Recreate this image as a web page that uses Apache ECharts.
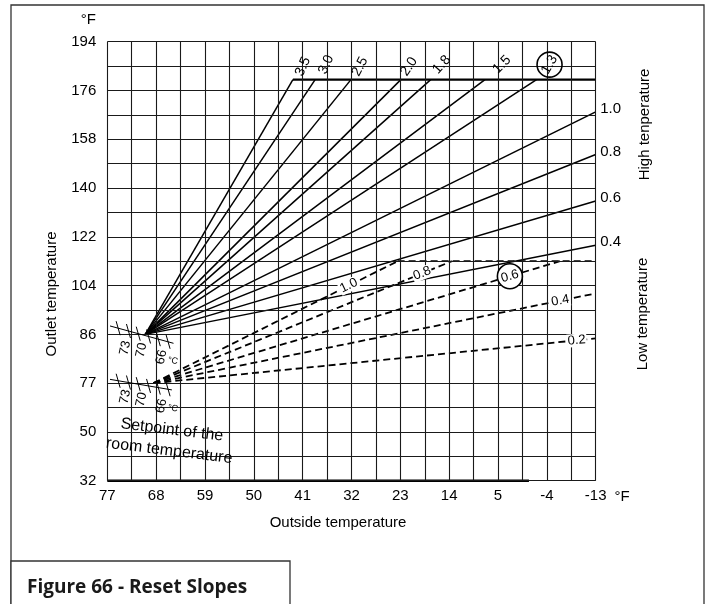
<!DOCTYPE html>
<html>
<head>
<meta charset="utf-8">
<script src="https://cdn.jsdelivr.net/npm/echarts@6/dist/echarts.min.js"></script>
<style>
  html, body { margin: 0; padding: 0; background: #fff; }
  #chart { width: 709px; height: 604px; }
</style>
</head>
<body>
<div id="chart"></div>
<script>
  // outside temperature ticks (°F)
  var xTicks = [77, 68, 59, 50, 41, 32, 23, 14, 5, -4, -13];
  // outlet temperature ticks and the text printed at them
  var yTicks = [32, 50, 68, 86, 104, 122, 140, 158, 176, 194];
  var yTickText = ['32', '50', '77', '86', '104', '122', '140', '158', '176', '194'];
  // grid lines (the one at 77 is not drawn in the original)
  var xGrid = [77, 72.5, 68, 63.5, 59, 54.5, 50, 45.5, 41, 36.5, 32, 27.5, 23, 18.5, 14, 9.5, 5, 0.5, -4, -8.5, -13];
  var yGrid = [32, 41, 50, 59, 68, 86, 95, 104, 113, 122, 131, 140, 149, 158, 167, 176, 185, 194];

  // high temperature slopes, all from the 70 / 86 point
  var highNames = ['3.5', '3.0', '2.5', '2.0', '1.8', '1.5', '1.3', '1.0', '0.8', '0.6', '0.4'];
  var highStart = [70, 86];
  var highEndX = [42.8, 38.7, 32.1, 22.9, 17.4, 7.4, -2.1, -13, -13, -13, -13];
  var highEndY = [180, 180, 180, 180, 180, 180, 180, 168.1, 152.4, 135.2, 118.9];
  var highLimit = 180;

  // low temperature slopes (dashed)
  var lowNames = ['1.0', '0.8', '0.6', '0.4', '0.2'];
  var lowStart = [68.5, 68];
  var lowEndX = [23.5, 13.5, -6.4, -13, -13];
  var lowEndY = [113, 113, 113, 101.1, 84.5];
  var lowLimit = 113;

  // room setpoint scales
  var setpointTicks = [75, 73.1, 71.3, 69.4, 67.6, 65.8];
  var upperScaleX = [76.5, 64.8], upperScaleY = [89.1, 82.7];
  var lowerScaleX = [76.5, 65.1], lowerScaleY = [69.4, 65.5];

  var FONT = 'Liberation Sans';
  var INK = '#000';

  // label layout (not data)
  var topRot = [66, 66, 62, 56, 48, 45, 60];
  var topShift = [[10, -13], [11, -15], [9, -13], [8, -13], [11, -15], [17, -15], [13, -15]];
  var lowLabelAt = [0.80, 0.90, 0.877, 0.92, 0.957];
  var lowLabelRot = [26, 21, 16, 10, 5];

  function lerp(a, b, t) {
    return [a[0] + (b[0] - a[0]) * t, a[1] + (b[1] - a[1]) * t];
  }
  function onScale(xs, ys, x) {
    return ys[0] + (ys[1] - ys[0]) * (x - xs[0]) / (xs[1] - xs[0]);
  }

  var series = [];

  // grid
  series.push({
    type: 'line', data: [], silent: true, z: 1,
    markLine: {
      silent: true, symbol: ['none', 'none'], animation: false,
      label: { show: false },
      lineStyle: { color: '#1a1a1a', width: 1.1, type: 'solid' },
      emphasis: { disabled: true },
      data: xGrid.map(function (v) { return { xAxis: v }; })
        .concat(yGrid.map(function (v) { return { yAxis: v }; }))
    }
  });

  // heavy part of the base line
  series.push({
    type: 'line', symbol: 'none', clip: false, silent: true, z: 3,
    data: [[77, 32], [-0.7, 32]],
    lineStyle: { color: '#000', width: 2.5 }
  });

  // limits
  series.push({
    type: 'line', symbol: 'none', clip: false, silent: true, z: 3,
    data: [[highEndX[0], highLimit], [-13, highLimit]],
    lineStyle: { color: INK, width: 2.2 }
  });
  series.push({
    type: 'line', symbol: 'none', clip: false, silent: true, z: 3,
    data: [[lowEndX[0], lowLimit], [-13, lowLimit]],
    lineStyle: { color: INK, width: 1.8, type: [7, 4] }
  });

  // high temperature curves
  highNames.forEach(function (name, i) {
    var end = [highEndX[i], highEndY[i]];
    var mp;
    if (highEndY[i] === highLimit) {
      var circled = name === '1.3';
      mp = {
        symbol: 'circle',
        symbolSize: circled ? 25 : 1,
        symbolOffset: topShift[i],
        itemStyle: circled ? { color: 'rgba(0,0,0,0)', borderColor: '#000', borderWidth: 1.6 } : { color: 'rgba(0,0,0,0)' },
        label: { show: true, position: 'inside', rotate: topRot[i], color: INK, fontFamily: FONT, fontSize: 14 },
        data: [{ coord: end, value: name }]
      };
    } else {
      mp = {
        symbol: 'circle', symbolSize: 1,
        itemStyle: { color: 'rgba(0,0,0,0)' },
        label: { show: true, position: 'right', distance: 4, offset: [0, -3], color: INK, fontFamily: FONT, fontSize: 15 },
        data: [{ coord: end, value: name }]
      };
    }
    mp.animation = false;
    mp.silent = true;
    series.push({
      name: 'high ' + name, type: 'line', symbol: 'none', clip: false, z: 4,
      data: [highStart, end],
      lineStyle: { color: INK, width: 1.5 },
      markPoint: mp
    });
  });

  // low temperature curves
  lowNames.forEach(function (name, i) {
    var end = [lowEndX[i], lowEndY[i]];
    var circled = name === '0.6';
    series.push({
      name: 'low ' + name, type: 'line', symbol: 'none', clip: false, z: 4,
      data: [lowStart, end],
      lineStyle: { color: INK, width: 1.8, type: [7, 4] },
      markPoint: {
        animation: false, silent: true,
        symbol: 'circle',
        symbolSize: circled ? 25 : 1,
        itemStyle: circled ? { color: '#fff', borderColor: '#000', borderWidth: 1.6 } : { color: 'rgba(0,0,0,0)' },
        label: {
          show: true, position: 'inside', rotate: lowLabelRot[i], color: INK,
          fontFamily: FONT, fontSize: 13,
          backgroundColor: circled ? 'transparent' : '#fff', padding: [0, 1]
        },
        data: [{ coord: lerp(lowStart, end, lowLabelAt[i]), value: name }]
      }
    });
  });

  // setpoint scales
  [[upperScaleX, upperScaleY], [lowerScaleX, lowerScaleY]].forEach(function (s) {
    series.push({
      type: 'line', symbol: 'none', clip: false, silent: true, z: 5,
      data: [[s[0][0], s[1][0]], [s[0][1], s[1][1]]],
      lineStyle: { color: INK, width: 1 }
    });
    series.push({
      type: 'custom', clip: false, silent: true, z: 5,
      data: setpointTicks.map(function (x) { return [x, onScale(s[0], s[1], x)]; }),
      renderItem: function (params, api) {
        var p = api.coord([api.value(0), api.value(1)]);
        return {
          type: 'line',
          shape: { x1: p[0] - 2, y1: p[1] - 7, x2: p[0] + 2, y2: p[1] + 7 },
          style: { stroke: INK, lineWidth: 1 }
        };
      }
    });
  });

  // small texts inside the plot
  function note(text, coord, rot, size) {
    return {
      coord: coord, value: text,
      label: { rotate: rot, fontSize: size }
    };
  }
  series.push({
    type: 'line', data: [], z: 6,
    markPoint: {
      animation: false, silent: true,
      symbol: 'circle', symbolSize: 1,
      itemStyle: { color: 'rgba(0,0,0,0)' },
      label: { show: true, position: 'inside', color: INK, fontFamily: FONT },
      data: [
        note('73', [73.7, 81.0], 78, 13),
        note('70', [70.7, 80.2], 78, 13),
        note('66', [67.0, 77.6], 78, 13),
        note('°C', [64.9, 76.2], -10, 9),
        note('73', [73.7, 63.0], 78, 13),
        note('70', [70.7, 62.0], 78, 13),
        note('66', [67.0, 59.6], 78, 13),
        note('°C', [64.9, 58.7], -10, 9),
        note('Setpoint of the', [65.1, 50.7], -7, 16),
        note('room temperature', [65.6, 43.0], -7, 16)
      ]
    }
  });

  var chart = echarts.init(document.getElementById('chart'));
  chart.setOption({
    animation: false,
    backgroundColor: '#fff',
    grid: { left: 107.3, right: 113.3, top: 41.7, bottom: 123.3 },
    xAxis: {
      type: 'value', inverse: true, min: -13, max: 77,
      axisLine: { show: false }, axisTick: { show: false }, splitLine: { show: false },
      axisLabel: {
        customValues: xTicks, margin: 8,
        color: INK, fontFamily: FONT, fontSize: 15,
        formatter: function (v) { return String(v); }
      }
    },
    yAxis: {
      type: 'value', min: 32, max: 194,
      axisLine: { show: false }, axisTick: { show: false }, splitLine: { show: false },
      axisLabel: {
        customValues: yTicks, margin: 11,
        color: INK, fontFamily: FONT, fontSize: 15,
        formatter: function (v) {
          var i = yTicks.indexOf(v);
          return i < 0 ? '' : yTickText[i];
        }
      }
    },
    graphic: [
      { type: 'rect', z: 0, shape: { x: 11, y: 5, width: 693, height: 640 },
        style: { fill: 'none', stroke: '#333', lineWidth: 1.3 } },
      { type: 'rect', z: 10, shape: { x: 11, y: 561, width: 279, height: 80 },
        style: { fill: '#fff', stroke: '#333', lineWidth: 1.3 } },
      { type: 'text', z: 11, x: 27, y: 588,
        style: { text: 'Figure 66 - Reset Slopes', fill: '#1a1a1a', fontFamily: 'Open Sans', fontWeight: 'bold', fontSize: 19, verticalAlign: 'middle' } },
      { type: 'text', x: 96, y: 20,
        style: { text: '°F', fill: INK, fontFamily: FONT, fontSize: 15, align: 'right', verticalAlign: 'middle' } },
      { type: 'text', x: 622, y: 497,
        style: { text: '°F', fill: INK, fontFamily: FONT, fontSize: 15, align: 'center', verticalAlign: 'middle' } },
      { type: 'text', x: 338, y: 523,
        style: { text: 'Outside temperature', fill: INK, fontFamily: FONT, fontSize: 15, align: 'center', verticalAlign: 'middle' } },
      { type: 'text', x: 51.7, y: 294, rotation: Math.PI / 2,
        style: { text: 'Outlet temperature', fill: INK, fontFamily: FONT, fontSize: 15, align: 'center', verticalAlign: 'middle' } },
      { type: 'text', x: 645, y: 124.5, rotation: Math.PI / 2,
        style: { text: 'High tenperature', fill: INK, fontFamily: FONT, fontSize: 15, align: 'center', verticalAlign: 'middle' } },
      { type: 'text', x: 643, y: 314, rotation: Math.PI / 2,
        style: { text: 'Low temperature', fill: INK, fontFamily: FONT, fontSize: 15, align: 'center', verticalAlign: 'middle' } }
    ],
    series: series
  });
</script>
</body>
</html>
